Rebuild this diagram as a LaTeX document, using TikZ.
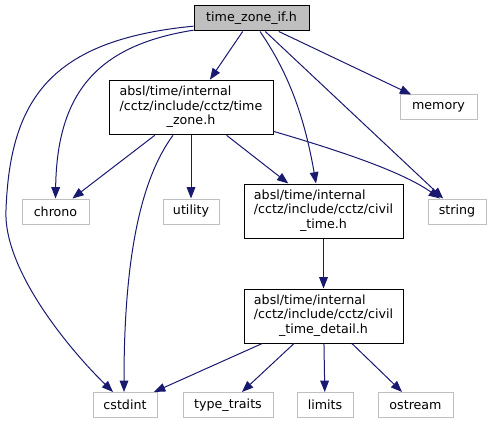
\documentclass[tikz,border=0pt]{standalone}
\usepackage{fontspec}
\setmainfont{DejaVu Sans}
\usetikzlibrary{arrows.meta}
\definecolor{edgeblue}{HTML}{191970}
\definecolor{leafgray}{HTML}{BFBFBF}
\begin{document}
\begin{tikzpicture}[x=0.75pt,y=-0.75pt,
  every node/.style={font=\fontsize{9.5}{10.9}\selectfont, inner sep=0pt, align=center},
  leaf/.style={draw=leafgray, fill=white, line width=0.75pt, minimum height=18.75pt},
  filebox/.style={draw=black, fill=white, line width=0.75pt, minimum height=41pt},
  topbox/.style={draw=black, fill=leafgray, line width=0.75pt, minimum height=18.75pt},
  dep/.style={draw=edgeblue, line width=0.75pt, -{Triangle[length=8.5pt,width=6.5pt]}}]
\useasboundingbox (0,0) rectangle (492,424);
\node[topbox, minimum width=86.25pt] (top) at (251.5,18.5) {time\_zone\_if.h};
\node[filebox, minimum width=123pt] (tz) at (191,107.5) {\begin{tabular}{@{}l@{}}absl/time/internal\\/cctz/include/cctz/time\\\multicolumn{1}{@{}c@{}}{\_zone.h}\end{tabular}};
\node[leaf, minimum width=57.75pt] (memory) at (438.5,107.5) {memory};
\node[leaf, minimum width=50.25pt] (chrono) at (55.5,211.5) {chrono};
\node[leaf, minimum width=42pt] (utility) at (191,211.5) {utility};
\node[filebox, minimum width=119.25pt, minimum height=40.5pt] (civil) at (323.5,211) {\begin{tabular}{@{}l@{}}absl/time/internal\\/cctz/include/cctz/civil\\\multicolumn{1}{@{}c@{}}{\_time.h}\end{tabular}};
\node[leaf, minimum width=43.5pt] (string) at (457,211.5) {string};
\node[filebox, minimum width=119.25pt, minimum height=40.5pt] (detail) at (323.5,316) {\begin{tabular}{@{}l@{}}absl/time/internal\\/cctz/include/cctz/civil\\\multicolumn{1}{@{}c@{}}{\_time\_detail.h}\end{tabular}};
\node[leaf, minimum width=48pt] (cstdint) at (125,405) {cstdint};
\node[leaf, minimum width=67.5pt] (typetraits) at (228,405) {type\_traits};
\node[leaf, minimum width=42pt] (limits) at (325,405) {limits};
\node[leaf, minimum width=56.25pt] (ostream) at (415.5,405) {ostream};

\draw[dep] (top) -- (tz);
\draw[dep] ([yshift=1pt]top.south west) .. controls (100,45) and (57,90) .. (chrono.north);
\draw[dep] ([yshift=4pt]top.south west) .. controls (50,40) and (10,100) .. (6,210) .. controls (3,270) and (70,350) .. ([xshift=-9pt]cstdint.north);
\draw[dep] ([xshift=6.4pt]top.south) .. controls (290,75) and (305,120) .. ([xshift=-5.6pt]civil.north);
\draw[dep] (top) -- (string);
\draw[dep] (top) -- (memory);
\draw[dep] (tz) -- (chrono);
\draw[dep] (tz) -- (utility);
\draw[dep] ([xshift=-13.5pt]tz.south) .. controls (140,180) and (124,260) .. ([xshift=-0.75pt]cstdint.north);
\draw[dep] (tz) -- (civil);
\draw[dep] ([yshift=3pt]tz.south east) .. controls (330,148) and (400,170) .. ([xshift=-12.75pt]string.north);
\draw[dep] (civil) -- (detail);
\draw[dep] (detail) -- (cstdint);
\draw[dep] (detail) -- (typetraits);
\draw[dep] (detail) -- (limits);
\draw[dep] (detail) -- (ostream);
\end{tikzpicture}
\end{document}
